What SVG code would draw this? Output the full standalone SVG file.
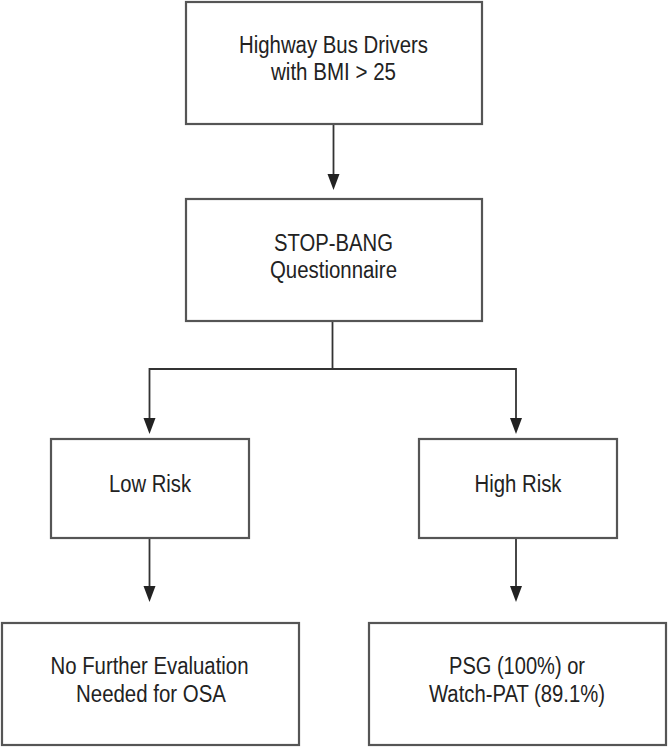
<svg xmlns="http://www.w3.org/2000/svg" width="668" height="747" viewBox="0 0 668 747">
<defs>
<style>
.box{fill:#fff;stroke:#555;stroke-width:2.2}
.t{font-family:"Liberation Sans",Arial,sans-serif;font-size:23px;fill:#222;text-anchor:middle}
.ln{fill:none;stroke:#333;stroke-width:1.8}
.ah{fill:#222}
</style>
</defs>
<rect width="668" height="747" fill="#fff"/>
<g id="connectors">
<line class="ln" x1="333.5" y1="124" x2="333.5" y2="180"/>
<polygon class="ah" points="327.5,174 339.5,174 333.5,190"/>
<polyline class="ln" points="332.5,321 332.5,369"/>
<polyline class="ln" points="149.5,424 149.5,369 516,369 516,424"/>
<polygon class="ah" points="143.5,418 155.5,418 149.5,434"/>
<polygon class="ah" points="510,418 522,418 516,434"/>
<line class="ln" x1="149.5" y1="538" x2="149.5" y2="592"/>
<polygon class="ah" points="143.5,586 155.5,586 149.5,602"/>
<line class="ln" x1="516" y1="538" x2="516" y2="592"/>
<polygon class="ah" points="510,586 522,586 516,602"/>
</g>
<g id="n1">
<rect class="box" x="186" y="2" width="296" height="122"/>
<text class="t" x="333.5" y="53" textLength="189" lengthAdjust="spacingAndGlyphs">Highway Bus Drivers</text>
<text class="t" x="333.5" y="80" textLength="125" lengthAdjust="spacingAndGlyphs">with BMI &gt; 25</text>
</g>
<g id="n2">
<rect class="box" x="186" y="199" width="296" height="122"/>
<text class="t" x="333.5" y="251" textLength="119" lengthAdjust="spacingAndGlyphs">STOP-BANG</text>
<text class="t" x="333.5" y="278" textLength="127" lengthAdjust="spacingAndGlyphs">Questionnaire</text>
</g>
<g id="n3">
<rect class="box" x="51" y="439" width="198" height="99"/>
<text class="t" x="150" y="492" textLength="82" lengthAdjust="spacingAndGlyphs">Low Risk</text>
</g>
<g id="n4">
<rect class="box" x="419" y="439" width="198" height="99"/>
<text class="t" x="518" y="492" textLength="87" lengthAdjust="spacingAndGlyphs">High Risk</text>
</g>
<g id="n5">
<rect class="box" x="2" y="623" width="297" height="122"/>
<text class="t" x="149.5" y="674" textLength="198" lengthAdjust="spacingAndGlyphs">No Further Evaluation</text>
<text class="t" x="151" y="702" textLength="150" lengthAdjust="spacingAndGlyphs">Needed for OSA</text>
</g>
<g id="n6">
<rect class="box" x="369" y="623" width="297" height="122"/>
<text class="t" x="517" y="674" textLength="136" lengthAdjust="spacingAndGlyphs">PSG (100%) or</text>
<text class="t" x="517" y="702" textLength="176" lengthAdjust="spacingAndGlyphs">Watch-PAT (89.1%)</text>
</g>
</svg>
